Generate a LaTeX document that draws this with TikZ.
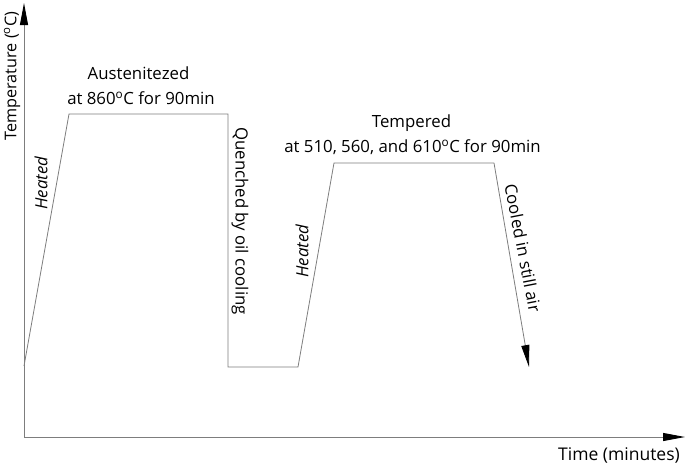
\documentclass[tikz,border=0pt]{standalone}
\usepackage{fontspec}
\setmainfont{Open Sans}
\usetikzlibrary{arrows.meta}
\definecolor{linegray}{RGB}{125,125,125}
\begin{document}
\begin{tikzpicture}[x=1pt,y=-1pt,
  axis/.style={draw=linegray, line width=0.9pt},
  curve/.style={draw=linegray, line width=0.8pt},
  tip/.style={-{Triangle[length=22pt,width=8pt,black]}},
  lbl/.style={font=\fontsize{16.8}{19}\selectfont, inner sep=0pt}]
\useasboundingbox (0,0) rectangle (685,466);
\coordinate (O) at (24,437);
\coordinate (Ytop) at (24,3);
\coordinate (Xend) at (685,437);
\draw[axis,tip] (O) -- (Ytop);
\draw[axis,tip] (O) -- (Xend);
\coordinate (p0) at (24,366);
\coordinate (p1) at (69,114);
\coordinate (p2) at (228,114);
\coordinate (p3) at (228,367);
\coordinate (p4) at (298,367);
\coordinate (p5) at (334,163);
\coordinate (p6) at (494,163);
\coordinate (p7) at (529,367);
\draw[curve] (p0) -- (p1) -- (p2) -- (p3) -- (p4) -- (p5) -- (p6);
\draw[curve,tip] (p6) -- (p7);
\node[lbl] (aus) at (138.5,73) {Austenitezed};
\node[lbl] (aus2) at (141,98) {at 860\textsuperscript{o}C for 90min};
\node[lbl] (temp) at (411.5,123) {Tempered};
\node[lbl] (temp2) at (412.5,147) {at 510, 560, and 610\textsuperscript{o}C for 90min};
\node[lbl, rotate=-90] (quench) at (240,221) {Quenched by oil cooling};
\node[lbl, rotate=90] (heat1) at (41,183) {\itshape Heated};
\node[lbl, rotate=90] (heat2) at (302,251) {\itshape Heated};
\node[lbl, rotate=-79] (cool) at (523,248) {Cooled in still air};
\node[lbl, font=\fontsize{16.2}{19}\selectfont, rotate=90] (ylab) at (12,76) {Temperature (\textsuperscript{o}C)};
\node[lbl, font=\fontsize{17.5}{20}\selectfont] (xlab) at (619,455) {Time (minutes)};
\end{tikzpicture}
\end{document}
